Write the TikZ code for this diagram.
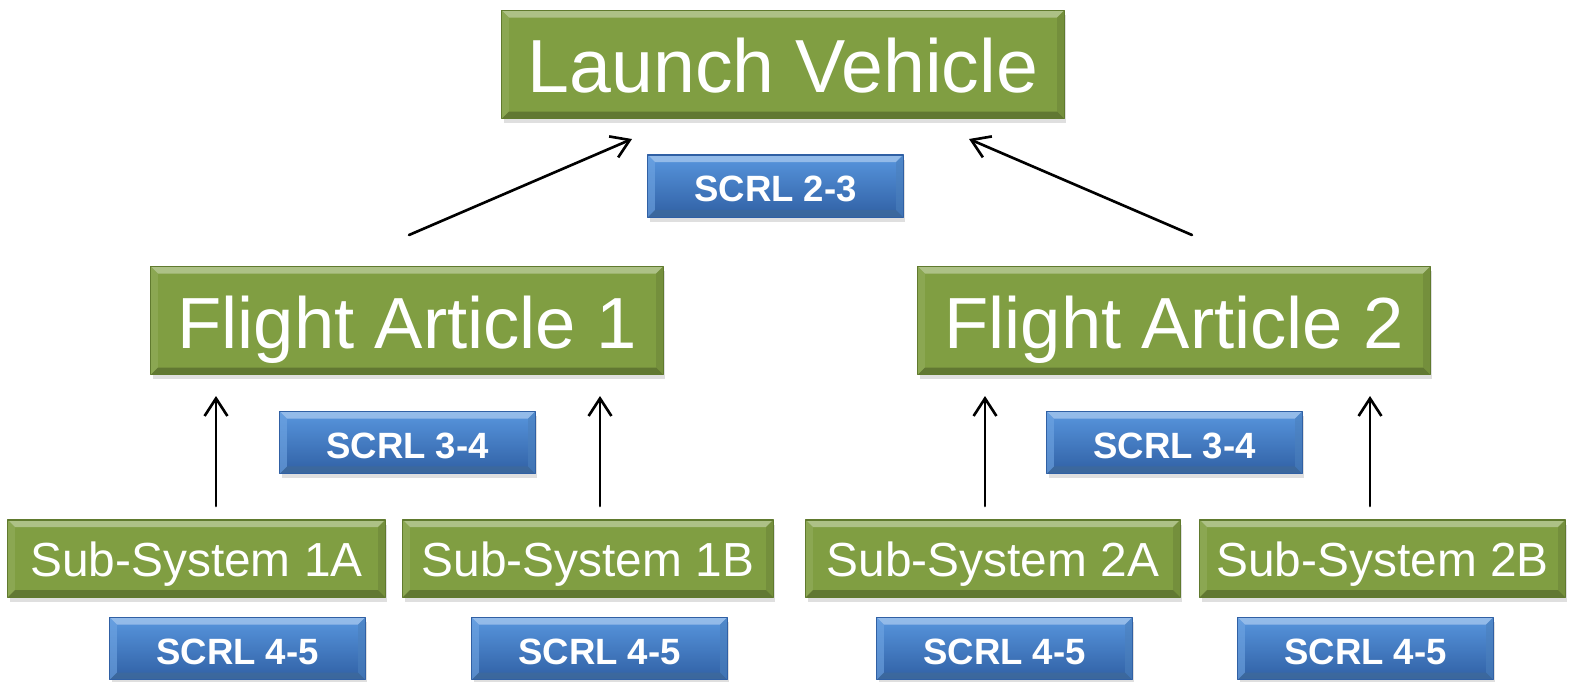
\documentclass[tikz,border=0pt]{standalone}
\usepackage{fontspec}
\setmainfont{Liberation Sans}
\usetikzlibrary{shadows,arrows.meta}
\definecolor{lvgreen}{RGB}{128,158,66}
\definecolor{lvgreenhi}{RGB}{196,222,130}
\definecolor{lvgreenlo}{RGB}{96,122,46}
\definecolor{scrltop}{RGB}{88,150,222}
\definecolor{scrlbot}{RGB}{48,96,164}
\tikzset{
  bevel/.style={path picture={
    \fill[#1!55!white,opacity=0.8] (path picture bounding box.north west) -- (path picture bounding box.north east)
      -- ([xshift=-2pt,yshift=-2pt]path picture bounding box.north east) -- ([xshift=2pt,yshift=-2pt]path picture bounding box.north west) -- cycle;
    \fill[#1!70!black,opacity=0.8] (path picture bounding box.south west) -- (path picture bounding box.south east)
      -- ([xshift=-2pt,yshift=2pt]path picture bounding box.south east) -- ([xshift=2pt,yshift=2pt]path picture bounding box.south west) -- cycle;
    \fill[#1!85!black,opacity=0.6] (path picture bounding box.north east) -- (path picture bounding box.south east)
      -- ([xshift=-2pt,yshift=2pt]path picture bounding box.south east) -- ([xshift=-2pt,yshift=-2pt]path picture bounding box.north east) -- cycle;
    \fill[#1!85!white,opacity=0.6] (path picture bounding box.north west) -- (path picture bounding box.south west)
      -- ([xshift=2pt,yshift=2pt]path picture bounding box.south west) -- ([xshift=2pt,yshift=-2pt]path picture bounding box.north west) -- cycle;
  }},
  greenbox/.style={rectangle, fill=lvgreen, draw=lvgreenlo, line width=0.3pt, text=white, inner sep=0pt,
    drop shadow={opacity=0.25, shadow xshift=0.6pt, shadow yshift=-1.4pt}, bevel=lvgreen},
  bigbox/.style={greenbox, minimum height=1.08cm, text height=18pt, text depth=1.8pt, font=\fontsize{20.6}{24}\selectfont},
  subbox/.style={greenbox, minimum height=0.77cm, text height=12pt, text depth=1.5pt, font=\fontsize{13.6}{16}\selectfont},
  scrlbox/.style={rectangle, top color=scrltop, bottom color=scrlbot, draw=scrlbot, line width=0.3pt, text=white,
    inner sep=0pt, minimum width=2.55cm, minimum height=0.62cm, font=\bfseries\fontsize{10.4}{12}\selectfont,
    text height=9.9pt, text depth=1pt,
    drop shadow={opacity=0.25, shadow xshift=0.6pt, shadow yshift=-1.4pt}, bevel=scrltop},
}
\begin{document}
\begin{tikzpicture}[x=0.01cm, y=-0.01cm, line join=round, line cap=round, >={Straight Barb[length=5pt,width=6.5pt]}]
	\useasboundingbox (0,0) rectangle (1570,681);
	% top level
	\node[bigbox, minimum width=5.62cm, font=\fontsize{21.4}{24}\selectfont] (lv) at (783,64.5) {Launch Vehicle};
	\node[scrlbox] (scrl23) at (775.5,186) {SCRL 2-3};
	% flight articles
	\node[bigbox, minimum width=5.12cm] (fa1) at (407,320.5) {Flight Article 1};
	\node[bigbox, minimum width=5.12cm] (fa2) at (1174,320.5) {Flight Article 2};
	\node[scrlbox] (scrl34a) at (407.5,442.5) {SCRL 3-4};
	\node[scrlbox] (scrl34b) at (1174.5,442.5) {SCRL 3-4};
	% sub-systems
	\node[subbox, minimum width=3.77cm] (ss1a) at (196.5,558.5) {Sub-System 1A};
	\node[subbox, minimum width=3.70cm] (ss1b) at (588,558.5) {Sub-System 1B};
	\node[subbox, minimum width=3.74cm] (ss2a) at (993,558.5) {Sub-System 2A};
	\node[subbox, minimum width=3.65cm] (ss2b) at (1382.5,558.5) {Sub-System 2B};
	\node[scrlbox] (scrl45a) at (237.5,648.5) {SCRL 4-5};
	\node[scrlbox] (scrl45b) at (599.5,648.5) {SCRL 4-5};
	\node[scrlbox] (scrl45c) at (1004.5,648.5) {SCRL 4-5};
	\node[scrlbox] (scrl45d) at (1365.5,648.5) {SCRL 4-5};
	% arrow ends
	\coordinate (fa1out) at (409,235);
	\coordinate (fa2out) at (1192,235);
	\coordinate (lvinl) at (632,139);
	\coordinate (lvinr) at (969,139);
	\coordinate (ss1aout) at (216,506);
	\coordinate (ss1bout) at (600,506);
	\coordinate (ss2aout) at (985,506);
	\coordinate (ss2bout) at (1370,506);
	\coordinate (fa1inl) at (216,396);
	\coordinate (fa1inr) at (600,396);
	\coordinate (fa2inl) at (985,396);
	\coordinate (fa2inr) at (1370,396);
	\draw[->,line width=0.75pt] (fa1out) -- (lvinl);
	\draw[->,line width=0.75pt] (fa2out) -- (lvinr);
	\draw[->,line width=0.75pt] (ss1aout) -- (fa1inl);
	\draw[->,line width=0.75pt] (ss1bout) -- (fa1inr);
	\draw[->,line width=0.75pt] (ss2aout) -- (fa2inl);
	\draw[->,line width=0.75pt] (ss2bout) -- (fa2inr);
\end{tikzpicture}
\end{document}
